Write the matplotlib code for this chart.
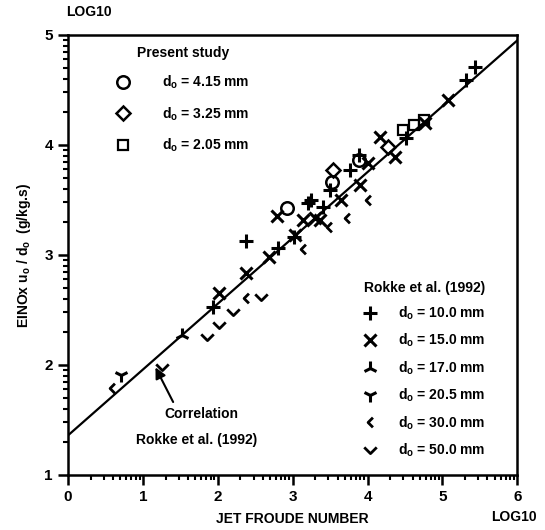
import numpy as np
import matplotlib.pyplot as plt
from matplotlib.path import Path

plt.rcParams['font.family'] = ['Liberation Sans', 'DejaVu Sans']
plt.rcParams['font.weight'] = 'bold'
plt.rcParams['mathtext.fontset'] = 'custom'
plt.rcParams['mathtext.rm'] = 'Liberation Sans:bold'
plt.rcParams['mathtext.it'] = 'Liberation Sans:bold'

# present study (log10 Froude, log10 EINOx u/d)
circ_x = [2.93, 3.52, 3.88]
circ_y = [3.43, 3.66, 3.86]
diam_x = [3.54, 4.27]
diam_y = [3.77, 3.98]
sq_x = [4.48, 4.62, 4.75]
sq_y = [4.14, 4.18, 4.23]

# Rokke et al. (1992)
d10_x = [1.94, 2.38, 2.80, 3.02, 3.20, 3.24, 3.40, 3.50, 3.77, 3.88, 4.52, 5.32, 5.44]
d10_y = [2.53, 3.13, 3.06, 3.16, 3.47, 3.50, 3.44, 3.59, 3.77, 3.91, 4.06, 4.59, 4.71]
d15_x = [2.02, 2.37, 2.69, 2.79, 3.03, 3.14, 3.30, 3.37, 3.64, 3.90, 4.00, 4.17, 4.37, 4.77, 5.07]
d15_y = [2.65, 2.84, 2.98, 3.35, 3.18, 3.32, 3.34, 3.32, 3.50, 3.64, 3.84, 4.07, 3.89, 4.20, 4.41]
d17_x = [1.52]
d17_y = [2.27]
d20_x = [0.70]
d20_y = [1.91]
d30_x = [0.59, 2.37, 3.14, 3.48, 3.73, 4.01]
d30_y = [1.79, 2.61, 3.05, 3.25, 3.34, 3.50]
d50_x = [1.26, 1.86, 2.01, 2.20, 2.58]
d50_y = [1.98, 2.25, 2.36, 2.48, 2.62]

# correlation line
corr_x = [0, 6]
corr_y = [1.36, 4.95]

lt = Path([(0.5, 1), (-0.5, 0), (0.5, -1)], [Path.MOVETO, Path.LINETO, Path.LINETO])
vee = Path([(-1, 0.5), (0, -0.5), (1, 0.5)], [Path.MOVETO, Path.LINETO, Path.LINETO])

fig = plt.figure(figsize=(5.45, 5.30), dpi=100)
ax = fig.add_axes([0.125, 0.104, 0.824, 0.830])

ax.plot(corr_x, corr_y, color='black', lw=1.6, zorder=2)

kw = dict(ls='none', color='black', mfc='none', zorder=3)
h1, = ax.plot(circ_x, circ_y, marker='o', ms=9, mew=1.8, **kw)
h2, = ax.plot(diam_x, diam_y, marker='D', ms=7, mew=1.8, **kw)
h3, = ax.plot(sq_x, sq_y, marker='s', ms=7.5, mew=1.6, **kw)
r1, = ax.plot(d10_x, d10_y, marker='+', ms=10, mew=2.2, **kw)
r2, = ax.plot(d15_x, d15_y, marker='x', ms=8, mew=2.2, **kw)
r3, = ax.plot(d17_x, d17_y, marker='2', ms=10, mew=2.2, **kw)
r4, = ax.plot(d20_x, d20_y, marker='1', ms=10, mew=2.2, **kw)
r5, = ax.plot(d30_x, d30_y, marker=lt, ms=7, mew=2.0, **kw)
r6, = ax.plot(d50_x, d50_y, marker=vee, ms=9, mew=2.0, **kw)

ax.set_xlim(0, 6)
ax.set_ylim(1, 5)
ax.set_xticks(range(7))
ax.set_yticks(range(1, 6))
minor = np.log10(np.arange(2, 10))
ax.set_xticks([n + m for n in range(6) for m in minor], minor=True)
ax.set_yticks([n + m for n in range(1, 5) for m in minor], minor=True)
ax.tick_params(which='major', direction='out', length=7, width=1.8, labelsize=11, pad=4)
ax.tick_params(which='minor', direction='out', length=3.5, width=1.5)
for s in ax.spines.values():
    s.set_linewidth(1.8)

ax.set_xlabel('JET FROUDE NUMBER', fontsize=10, fontweight='bold', labelpad=6)
ax.set_ylabel(r'EINOx u$_{\rm o}$ / d$_{\rm o}$  (g/kg.s)', fontsize=10, fontweight='bold', labelpad=8)
fig.text(0.122, 0.977, 'LOG10', fontsize=10, fontweight='bold', va='center')
fig.text(0.902, 0.025, 'LOG10', fontsize=10, fontweight='bold', va='center')

ax.annotate('', xy=(1.15, 2.0), xytext=(1.42, 1.64),
            arrowprops=dict(arrowstyle='-|>', color='black', lw=1.5, mutation_scale=16))
ax.text(1.78, 1.55, 'Correlation', fontsize=10, fontweight='bold', ha='center', va='center')
ax.text(1.72, 1.32, 'Rokke et al. (1992)', fontsize=10, fontweight='bold', ha='center', va='center')

leg1 = ax.legend([h1, h2, h3],
                 [r'd$_{\rm o}$ = 4.15 mm', r'd$_{\rm o}$ = 3.25 mm', r'd$_{\rm o}$ = 2.05 mm'],
                 title='Present study', loc='upper left', bbox_to_anchor=(0.08, 1.003),
                 frameon=False, prop=dict(size=10, weight='bold'), labelspacing=1.0,
                 handlelength=1.0, handletextpad=2.3, title_fontproperties=dict(size=10, weight='bold'))
ax.add_artist(leg1)
ax.legend([r1, r2, r3, r4, r5, r6],
          [r'd$_{\rm o}$ = 10.0 mm', r'd$_{\rm o}$ = 15.0 mm', r'd$_{\rm o}$ = 17.0 mm',
           r'd$_{\rm o}$ = 20.5 mm', r'd$_{\rm o}$ = 30.0 mm', r'd$_{\rm o}$ = 50.0 mm'],
          title='Rokke et al. (1992)', loc='upper left', bbox_to_anchor=(0.63, 0.47),
          frameon=False, prop=dict(size=10, weight='bold'), labelspacing=0.72,
          handlelength=1.0, handletextpad=1.5, title_fontproperties=dict(size=10, weight='bold'))

fig.savefig('out.png', dpi=100)
